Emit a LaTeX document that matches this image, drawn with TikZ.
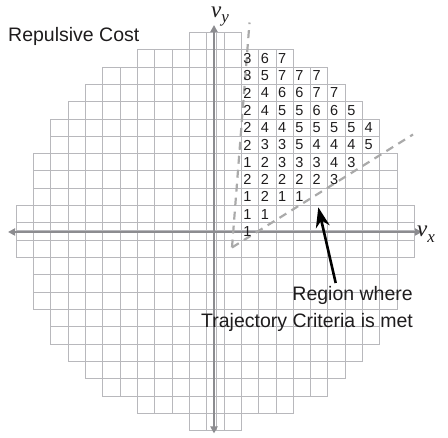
\documentclass[tikz,border=0pt]{standalone}
\usepackage{fontspec}
\setmainfont{Liberation Sans}
\newfontfamily\serifit{Liberation Serif}
\usetikzlibrary{arrows.meta}
\definecolor{gridc}{RGB}{184,184,188}
\definecolor{axisc}{RGB}{140,140,144}
\definecolor{dashc}{RGB}{170,170,170}
\definecolor{inkc}{RGB}{30,28,29}
\begin{document}
\begin{tikzpicture}[x=1pt,y=-1pt,
  cell/.style={draw=gridc, line width=0.9pt},
  num/.style={inner sep=0pt, font=\fontsize{14.5}{14.5}\selectfont, text=inkc},
  lbl/.style={inner sep=0pt, font=\fontsize{19.5}{23}\selectfont, text=inkc},
  vlbl/.style={inner sep=0pt, text=inkc, font=\serifit\itshape\fontsize{23}{23}\selectfont},
  axisline/.style={draw=axisc, line width=1.8pt, {Triangle[length=7pt,width=7pt]}-{Triangle[length=7pt,width=7pt]}},
  dashline/.style={draw=dashc, line width=2.2pt, dash pattern=on 8pt off 6pt},
  pointer/.style={draw=black, line width=2.6pt, -{Stealth[length=20pt,width=14pt]}}
]
\useasboundingbox (0,0) rectangle (448,438);
\def\gcs{17.33}
\def\gcx{215.3}
\def\gcy{231.6}
% grid cells (disc-shaped)
\foreach \j/\w in {0/11,1/11,2/10,3/10,4/10,5/9,6/9,7/8,8/7,9/6,10/4,11/1}{
  \pgfmathtruncatemacro\mw{-\w}
  \foreach \i in {\mw,...,\w}{
    \draw[cell] ({\gcx+(\i-0.5)*\gcs},{\gcy-(\j+0.5)*\gcs}) rectangle ({\gcx+(\i+0.5)*\gcs},{\gcy-(\j-0.5)*\gcs});
    \draw[cell] ({\gcx+(\i-0.5)*\gcs},{\gcy+(\j-0.5)*\gcs}) rectangle ({\gcx+(\i+0.5)*\gcs},{\gcy+(\j+0.5)*\gcs});
  }
}
% extra lines beside the axes
\draw[cell] (216.7,32.3) -- (216.7,430.9);
\draw[cell] (16,230.2) -- (414.6,230.2);
% axes
\coordinate (xl) at (8,232);
\coordinate (xr) at (422,232);
\coordinate (yt) at (214,25);
\coordinate (yb) at (214,433.5);
\draw[axisline] (xl) -- (xr);
\draw[axisline] (yb) -- (yt);
% dashed wedge
\coordinate (apex) at (232,247.5);
\coordinate (dtop) at (249.5,22.5);
\coordinate (dright) at (413,134.5);
\draw[dashline] (apex) -- (dtop);
\draw[dashline] (apex) -- (dright);
% cost numbers
\foreach \v [count=\k from 2] in {3,6,7} \node[num] (n\k-10) at ({\gcx+\k*\gcs-2.5},{\gcy-10*\gcs}) {\v};
\foreach \v [count=\k from 2] in {3,5,7,7,7} \node[num] (n\k-9) at ({\gcx+\k*\gcs-2.5},{\gcy-9*\gcs}) {\v};
\foreach \v [count=\k from 2] in {2,4,6,6,7,7} \node[num] (n\k-8) at ({\gcx+\k*\gcs-2.5},{\gcy-8*\gcs}) {\v};
\foreach \v [count=\k from 2] in {2,4,5,5,6,6,5} \node[num] (n\k-7) at ({\gcx+\k*\gcs-2.5},{\gcy-7*\gcs}) {\v};
\foreach \v [count=\k from 2] in {2,4,4,5,5,5,5,4} \node[num] (n\k-6) at ({\gcx+\k*\gcs-2.5},{\gcy-6*\gcs}) {\v};
\foreach \v [count=\k from 2] in {2,3,3,5,4,4,4,5} \node[num] (n\k-5) at ({\gcx+\k*\gcs-2.5},{\gcy-5*\gcs}) {\v};
\foreach \v [count=\k from 2] in {1,2,3,3,3,4,3} \node[num] (n\k-4) at ({\gcx+\k*\gcs-2.5},{\gcy-4*\gcs}) {\v};
\foreach \v [count=\k from 2] in {2,2,2,2,2,3} \node[num] (n\k-3) at ({\gcx+\k*\gcs-2.5},{\gcy-3*\gcs}) {\v};
\foreach \v [count=\k from 2] in {1,2,1,1} \node[num] (n\k-2) at ({\gcx+\k*\gcs-2.5},{\gcy-2*\gcs}) {\v};
\foreach \v [count=\k from 2] in {1,1} \node[num] (n\k-1) at ({\gcx+\k*\gcs-2.5},{\gcy-1*\gcs}) {\v};
\node[num] (n2-0) at ({\gcx+2*\gcs-2.5},{\gcy}) {1};
% axis labels
\node[vlbl, anchor=base west] (vy) at (211,17.5) {v\raisebox{-5pt}{\fontsize{17}{17}\selectfont y}};
\node[vlbl, anchor=base west] (vx) at (417,237) {v\raisebox{-6pt}{\fontsize{17}{17}\selectfont x}};
% texts
\node[lbl, anchor=base west] (title) at (8,41.7) {Repulsive Cost};
\node[lbl, anchor=base east] (reg1) at (413,300.7) {Region where};
\node[lbl, anchor=base east] (reg2) at (413,327.3) {Trajectory Criteria is met};
% pointer arrow
\coordinate (astart) at (335.7,283);
\coordinate (tip) at (318.3,207.3);
\draw[pointer] (astart) -- (tip);
\end{tikzpicture}
\end{document}
